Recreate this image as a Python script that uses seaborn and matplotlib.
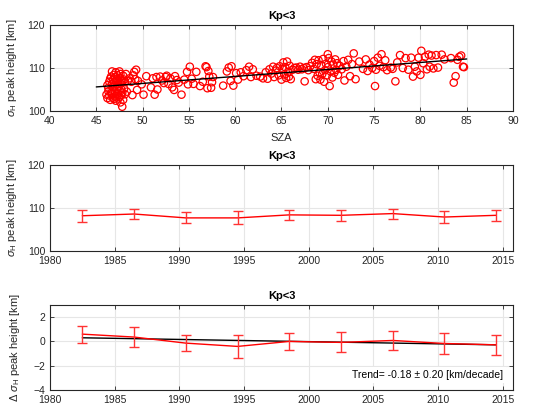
import numpy as np
import pandas as pd
import matplotlib
matplotlib.use("Agg")
import matplotlib.pyplot as plt
import seaborn as sns

# ---------------- data ----------------
sza_a = [46.1,46.2,46.2,46.3,46.3,46.4,46.4,46.5,46.5,46.6,46.6,46.7,46.7,46.7,46.8,46.8,46.8,46.9,46.9,46.9,
         47.0,47.0,47.0,47.0,47.1,47.1,47.1,47.2,47.2,47.2,47.3,47.3,47.3,47.4,47.4,47.4,47.5,47.5,47.5,47.5,
         47.6,47.6,47.6,47.7,47.7,47.7,47.8,47.8,47.8,47.9,47.9,48.0,48.0,48.1,48.1,48.2,48.3,48.4]
h_a = [103.8,103.0,106.0,104.6,105.4,106.8,103.6,107.5,102.6,104.2,108.0,109.2,106.3,104.0,107.2,105.5,103.1,106.6,108.4,102.8,
       107.8,105.9,104.5,103.4,106.9,109.0,102.4,107.4,105.1,103.8,108.3,106.2,104.1,107.0,105.6,102.9,109.2,107.6,104.8,103.3,
       106.4,108.6,102.0,107.1,105.0,103.7,101.0,106.9,104.3,108.2,102.6,107.3,105.2,103.9,106.7,108.6,104.5,107.0]
sza_b = [48.6,48.8,48.9,49.0,49.1,49.2,49.3,49.4,49.5,49.9,50.1,50.4,50.9,51.1,51.3,51.5,51.6,51.9,52.1,52.3,
         52.5,52.6,52.8,53.0,53.2,53.4,53.5,53.7,53.9,54.2,54.5,54.8,54.9,55.1,55.3,55.5,55.8]
h_b = [107.6,106.8,103.7,108.3,109.1,107.4,109.6,104.9,107.0,106.2,103.8,108.1,105.5,107.6,103.8,107.9,105.0,108.0,107.1,106.5,
       107.9,108.2,106.3,107.6,105.5,104.9,108.1,107.2,106.6,103.8,107.3,109.1,106.2,110.3,107.5,106.3,109.1]
sza_c = [56.2,56.5,56.8,56.9,57.0,57.1,57.2,57.4,57.5,57.6,58.7,59.1,59.3,59.5,59.6,59.8,60.1,60.3,60.6,60.9,
         61.2,61.5,61.7,61.9,62.3,62.7,63.0,63.3]
h_c = [105.8,106.8,110.4,110.2,105.3,109.3,108.0,105.4,106.7,107.9,105.9,109.2,110.1,107.0,110.4,105.9,108.8,107.3,109.0,108.1,
       109.5,110.3,107.9,109.7,108.2,108.0,107.6,109.0]
sza_d = [63.5,63.7,63.9,64.1,64.2,64.4,64.5,64.7,64.8,65.0,65.1,65.2,65.3,65.4,65.5,65.6,65.7,65.8,65.9,66.0,66.2,66.4]
h_d = [107.5,109.7,108.7,110.3,107.9,109.4,110.0,108.3,110.4,107.3,109.8,111.3,108.5,110.2,107.7,111.5,109.1,108.0,110.5,107.4,
       109.6,110.0]
sza_e = [66.6,66.8,67.0,67.2,67.4,67.5,67.7,67.9,68.1,68.3,68.5,68.6,68.7,68.8,68.9,69.0,69.1,69.2,69.3,69.4,
         69.5,69.6,69.7,69.8,69.9,70.0,70.0,70.1,70.2,70.3,70.4,70.5,70.6,70.7,70.8,70.9,71.0,71.1,71.3,71.5,
         71.7,71.8,72.0,72.2,72.4,72.6,72.8,73.0]
h_e = [110.1,109.6,110.3,109.7,110.0,106.9,110.2,109.5,110.4,111.2,109.8,111.9,107.4,110.9,108.2,111.8,109.0,107.3,110.6,108.6,
       112.1,106.8,109.5,111.0,108.3,113.2,110.2,112.3,105.8,109.2,111.5,107.8,110.8,108.9,112.0,109.6,111.1,108.4,110.5,109.7,
       111.6,107.1,110.3,111.9,108.1,110.9,113.4,107.4]
sza_f = [73.4,73.8,74.1,74.3,74.5,74.8,75.0,75.1,75.2,75.4,75.6,75.8,76.0,76.2,76.4,76.8,77.0,77.3,77.5,77.8,
         78.1,78.4,78.7,79.0,79.2,79.4,79.6,79.8,80.0,80.1,80.3,80.5,80.7,80.9,81.0,81.2,81.4,81.7,81.9,82.3,
         82.6,83.3,83.6,83.8,84.0,84.2,84.4,84.6,84.7]
h_f = [111.5,109.8,112.0,109.3,110.8,110.0,111.6,105.8,109.6,112.4,110.5,113.2,110.2,111.8,109.5,110.1,109.8,106.9,111.3,113.0,
       110.0,112.3,109.6,112.4,108.0,110.3,109.2,112.4,108.4,114.0,111.1,112.6,109.7,113.1,110.3,112.9,109.9,113.0,110.1,113.1,
       112.0,112.3,106.6,108.1,111.9,112.6,112.9,110.3,110.2]

fit_sza = [45, 85]
fit_h = [105.6, 112.1]

years = [1982.5, 1986.5, 1990.5, 1994.5, 1998.5, 2002.5, 2006.5, 2010.5, 2014.5]
mean_h = [108.2, 108.6, 107.7, 107.7, 108.4, 108.3, 108.7, 107.9, 108.3]
err_h = [1.4, 1.2, 1.3, 1.5, 1.2, 1.3, 1.15, 1.3, 1.35]
delta_h = [0.6, 0.36, -0.14, -0.41, 0.0, -0.08, 0.08, -0.17, -0.28]
err_d = [0.7, 0.83, 0.64, 0.94, 0.72, 0.83, 0.77, 0.88, 0.8]
trend_years = [1982.5, 2014.5]
trend_vals = [0.3, -0.28]
trend_value = -0.18
trend_error = 0.20

title = "Kp<3"

# ---------------- style ----------------
sns.set_theme(style="white")
plt.rcParams['font.family'] = ['Liberation Sans', 'DejaVu Sans']
plt.rcParams['mathtext.fontset'] = 'custom'
plt.rcParams['mathtext.rm'] = 'Liberation Sans'
plt.rcParams['mathtext.it'] = 'Liberation Sans:italic'
FS = 7.5
dark = '#262626'
gridc = '#e6e6e6'

scatter_df = pd.DataFrame({
    'sza': sza_a + sza_b + sza_c + sza_d + sza_e + sza_f,
    'h': h_a + h_b + h_c + h_d + h_e + h_f,
})
year_df = pd.DataFrame({'year': years, 'mean': mean_h, 'err': err_h,
                        'delta': delta_h, 'derr': err_d})

fig = plt.figure(figsize=(5.43, 4.09), dpi=100)
L, W = 50/543, 463/543
ax1 = fig.add_axes([L, 1-111/409, W, 86/409])
ax2 = fig.add_axes([L, 1-251/409, W, 86/409])
ax3 = fig.add_axes([L, 1-390/409, W, 85/409])


def style(ax):
    ax.grid(True, color=gridc, lw=0.8)
    ax.set_axisbelow(True)
    for s in ax.spines.values():
        s.set_color(dark)
        s.set_linewidth(0.8)
        s.set_visible(True)
    ax.tick_params(direction='in', length=3, width=0.6, color=dark,
                   labelsize=FS, labelcolor=dark, top=True, right=True,
                   bottom=True, left=True, pad=3.5)
    ax.set_title(title, fontsize=8, fontweight='bold', pad=4, color='black')


# Panel 1
sns.scatterplot(data=scatter_df, x='sza', y='h', ax=ax1, marker='o',
                facecolor='none', edgecolor='#ff0000', linewidth=0.9, s=28,
                zorder=2)
sns.lineplot(x=fit_sza, y=fit_h, ax=ax1, color='black', lw=1.0, zorder=3)
ax1.set_xlim(40, 90)
ax1.set_ylim(100, 120)
ax1.set_xticks(np.arange(40, 91, 5))
ax1.set_yticks([100, 110, 120])
ax1.set_xlabel('SZA', fontsize=8, color=dark, labelpad=5)
ax1.set_ylabel(r'$\sigma_{\rm H}$ peak height [km]', fontsize=FS + 0.5, color=dark, labelpad=6)
style(ax1)

# Panel 2
sns.lineplot(data=year_df, x='year', y='mean', ax=ax2, color='#ff0000', lw=1.0, zorder=3)
ax2.errorbar(years, mean_h, yerr=err_h, fmt='none', ecolor='#ff3333',
             elinewidth=1.0, capsize=3.6, capthick=1.0, zorder=3)
ax2.set_xlim(1980, 2015.8)
ax2.set_ylim(100, 120)
ax2.set_xticks(np.arange(1980, 2016, 5))
ax2.set_yticks([100, 110, 120])
ax2.set_xlabel('')
ax2.set_ylabel(r'$\sigma_{\rm H}$ peak height [km]', fontsize=FS + 0.5, color=dark, labelpad=6)
style(ax2)

# Panel 3
sns.lineplot(x=trend_years, y=trend_vals, ax=ax3, color='black', lw=1.0, zorder=2)
sns.lineplot(data=year_df, x='year', y='delta', ax=ax3, color='#ff0000', lw=1.0, zorder=3)
ax3.errorbar(years, delta_h, yerr=err_d, fmt='none', ecolor='#ff3333',
             elinewidth=1.0, capsize=3.6, capthick=1.0, zorder=3)
ax3.set_xlim(1980, 2015.8)
ax3.set_ylim(-4, 3)
ax3.set_xticks(np.arange(1980, 2016, 5))
ax3.set_yticks([-4, -2, 0, 2])
ax3.set_xlabel('')
ax3.set_ylabel(r'$\Delta$ $\sigma_{\rm H}$ peak height [km]', fontsize=FS + 0.5, color=dark, labelpad=8)
style(ax3)
ax3.text(0.978, 0.18, f"Trend= {trend_value:.2f} \u00b1 {trend_error:.2f} [km/decade]",
         transform=ax3.transAxes, ha='right', va='center', fontsize=FS, color='black',
         bbox=dict(facecolor='white', edgecolor='none', pad=2), zorder=5)

fig.savefig('out.png', dpi=100)
